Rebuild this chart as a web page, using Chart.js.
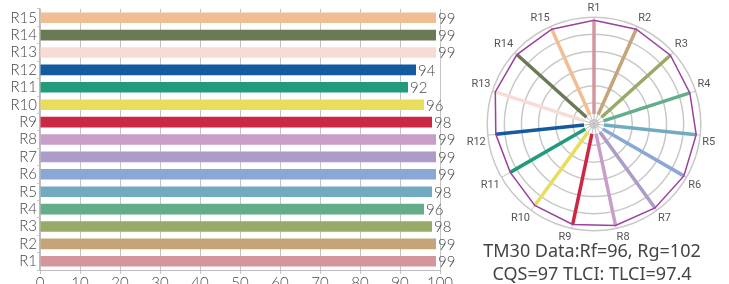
<!DOCTYPE html>
<html><head><meta charset="utf-8">
<script src="https://cdn.jsdelivr.net/npm/chart.js@4"></script>
<style>
html,body{margin:0;padding:0;background:#fff;overflow:hidden;width:729px;height:284px;position:relative;}
#bar{position:absolute;left:0;top:0;}
#radar{position:absolute;left:461px;top:1px;}
.info{position:absolute;left:470px;width:244px;text-align:center;font-family:"Noto Sans";font-size:18px;color:#444;line-height:22px;white-space:nowrap;}
</style></head>
<body>
<canvas id="bar" width="470" height="292"></canvas>
<canvas id="radar" width="260" height="244"></canvas>
<div class="info" id="info1" style="top:239px"></div>
<div class="info" id="info2" style="top:262px"></div>
<script>
const categories = ['R1','R2','R3','R4','R5','R6','R7','R8','R9','R10','R11','R12','R13','R14','R15'];
const values = [99,99,98,96,98,99,99,99,98,96,92,94,99,99,99];
const colors = ['#d4969d','#c4a57a','#97ab66','#64ad8b','#72abc0','#8aa8d6','#ad9cc9','#c89ec8','#cc2845','#e8dd5c','#229a7c','#135aa0','#f7dbd5','#6a7a55','#f1be94'];
const xTicks = [0,10,20,30,40,50,60,70,80,90,100];
const infoLines = ['TM30 Data:Rf=96, Rg=102','CQS=97 TLCI: TLCI=97.4'];

document.getElementById('info1').textContent = infoLines[0];
document.getElementById('info2').textContent = infoLines[1];

const valueLabels = {
  id:'valueLabels',
  afterDatasetsDraw(chart){
    const ctx = chart.ctx; const meta = chart.getDatasetMeta(0);
    ctx.save();
    ctx.font = '300 15px Lato'; ctx.fillStyle = '#484848'; ctx.textAlign='left'; ctx.textBaseline='middle';
    meta.data.forEach((el,i)=>{ ctx.fillText(String(values[i]), el.x + 2, el.y + 1); });
    ctx.restore();
  }
};

new Chart(document.getElementById('bar'), {
  type:'bar',
  data:{labels:categories, datasets:[{data:values, backgroundColor:colors, borderWidth:0, barPercentage:0.61, categoryPercentage:1}]},
  options:{
    indexAxis:'y', responsive:false, animation:false,
    plugins:{legend:{display:false}, tooltip:{enabled:false}},
    layout:{padding:{top:6,right:30,left:0,bottom:0}},
    scales:{
      x:{min:0,max:100,
        afterBuildTicks(s){ s.ticks = xTicks.map(v=>({value:v})); },
        ticks:{color:'#484848', font:{family:'Lato',size:15,weight:'300'}, padding:0, maxRotation:0, autoSkip:false},
        grid:{color:'#c4c4c4', lineWidth:1, tickLength:4},
        border:{color:'#bbb', width:1},
        afterFit(s){ s.height = 22; }},
      y:{reverse:true,
        ticks:{color:'#484848', font:{family:'Lato',size:15,weight:'300'}, padding:0, autoSkip:false},
        grid:{drawOnChartArea:false, tickLength:3, color:'#ccc'},
        border:{color:'#bbb', width:1.5},
        afterFit(s){ s.width = 40; }}
    }
  },
  plugins:[valueLabels]
});

const spokeStartValue = 6;
const spokes = {
  id:'spokes',
  beforeDatasetsDraw(chart){
    const s = chart.scales.r; const ctx = chart.ctx;
    ctx.save(); ctx.lineWidth = 3.5; ctx.lineCap='butt';
    values.forEach((v,i)=>{
      const p0 = s.getPointPositionForValue(i, spokeStartValue);
      const p1 = s.getPointPositionForValue(i, v);
      ctx.strokeStyle = colors[i];
      ctx.beginPath(); ctx.moveTo(p0.x,p0.y); ctx.lineTo(p1.x,p1.y); ctx.stroke();
    });
    ctx.restore();
  }
};

new Chart(document.getElementById('radar'), {
  type:'radar',
  data:{labels:categories, datasets:[{data:values, borderColor:'#9b409f', borderWidth:1.5, pointRadius:0, fill:false, tension:0}]},
  options:{
    responsive:false, animation:false,
    plugins:{legend:{display:false}, tooltip:{enabled:false}},
    scales:{r:{min:-4, max:102,
      ticks:{display:false, stepSize:17, includeBounds:false},
      grid:{color:'#c8c8c8', lineWidth:1.5, circular:true},
      angleLines:{color:'#c0c0c0', lineWidth:1},
      pointLabels:{color:'#555', font:{family:'Roboto', size:11}, padding:2}
    }}
  },
  plugins:[spokes]
});
</script>
</body></html>
